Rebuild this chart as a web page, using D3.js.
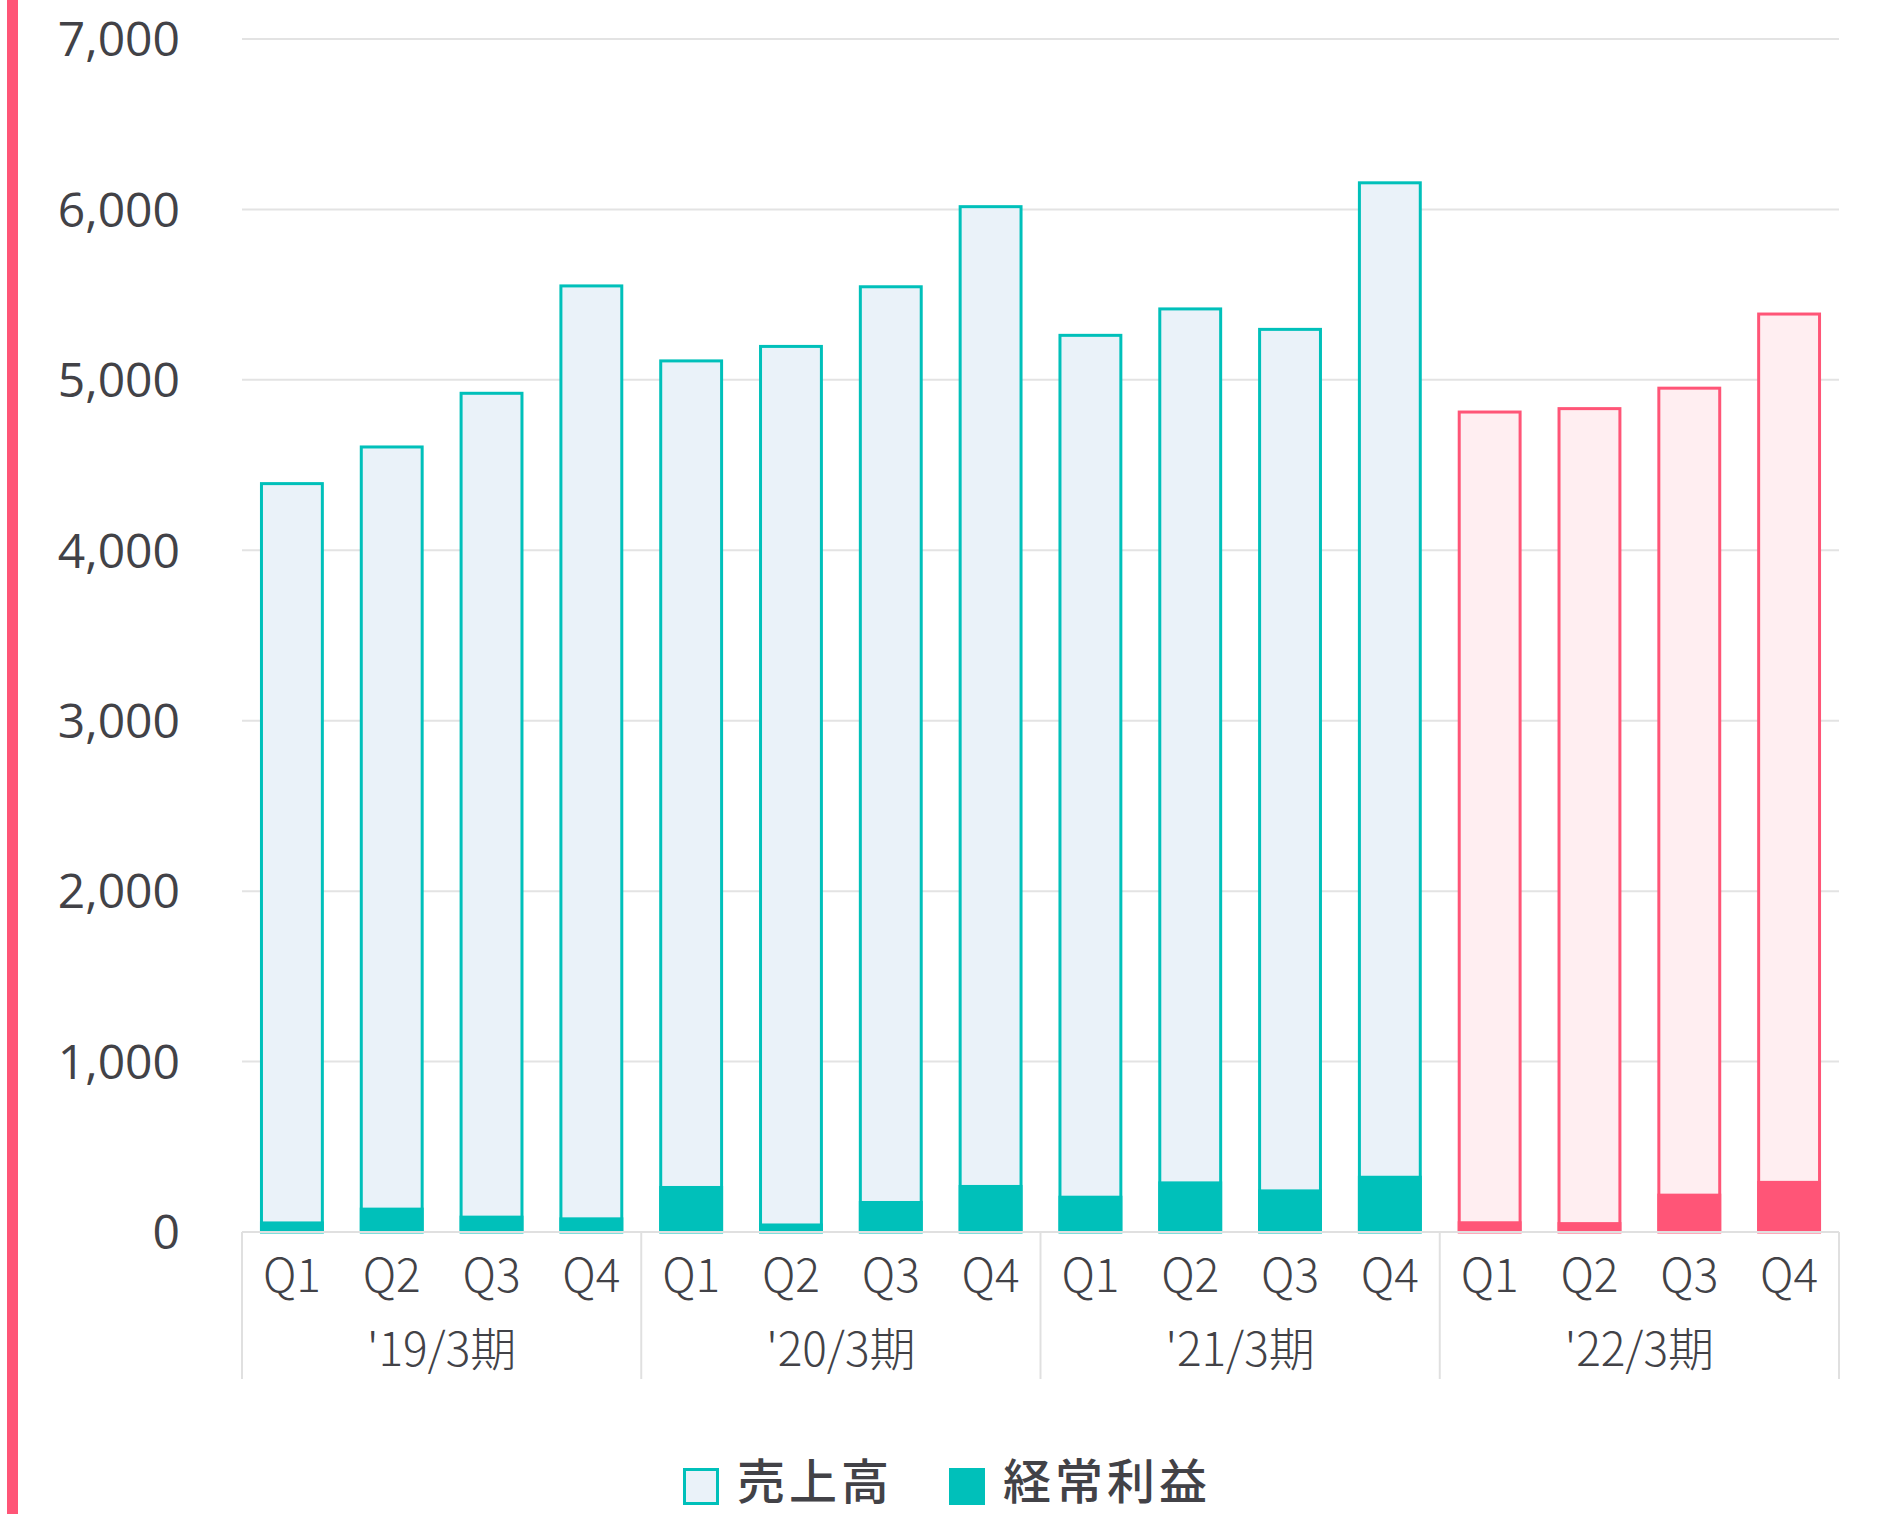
<!DOCTYPE html>
<html>
<head>
<meta charset="utf-8">
<script src="https://cdn.jsdelivr.net/npm/d3@7"></script>
<style>
  html, body { margin: 0; padding: 0; background: #fff; }
  svg { display: block; }
</style>
</head>
<body>
<div id="chart"></div>
<script>
// data
var periods = ["'19/3期", "'20/3期", "'21/3期", "'22/3期"];
var quarters = ["Q1", "Q2", "Q3", "Q4"];
var sales = [4400, 4615, 4930, 5560, 5120, 5205, 5555, 6025, 5270, 5425, 5305, 6165, 4820, 4840, 4960, 5395];
var profit = [62, 143, 96, 86, 270, 50, 182, 276, 213, 297, 250, 330, 63, 58, 225, 300];
var yTicks = [0, 1000, 2000, 3000, 4000, 5000, 6000, 7000];
var legendNames = ["売上高", "経常利益"];

var w = 1896, h = 1514;
var teal = "#00c0ba", tealLight = "#eaf2f9";
var pink = "#ff5577", pinkLight = "#ffeef1";
var textCol = "#424247";

var rows = [];
periods.forEach(function(p, pi) {
  quarters.forEach(function(q, qi) {
    rows.push({id: pi + "-" + q, period: p, pi: pi, q: q, sales: sales[pi * 4 + qi], profit: profit[pi * 4 + qi]});
  });
});

var svg = d3.select("#chart").append("svg")
  .attr("width", w)
  .attr("height", h);

// pink strip on the left
svg.append("rect")
  .attr("x", 7).attr("y", 0)
  .attr("width", 11).attr("height", h)
  .attr("fill", pink);

var x = d3.scaleBand()
  .domain(rows.map(function(d) { return d.id; }))
  .range([242, 1839])
  .paddingInner(0.36)
  .paddingOuter(0.18);

var y = d3.scaleLinear()
  .domain([0, 7000])
  .range([1232, 39]);

// grid lines
svg.append("g")
  .selectAll("line")
  .data(yTicks)
  .enter()
  .append("line")
  .attr("x1", 242).attr("x2", 1839)
  .attr("y1", function(d) { return y(d); })
  .attr("y2", function(d) { return y(d); })
  .attr("stroke", "#e3e3e3")
  .attr("stroke-width", 2);

// y labels
svg.append("g")
  .selectAll("text")
  .data(yTicks)
  .enter()
  .append("text")
  .attr("x", 180)
  .attr("y", function(d) { return y(d); })
  .attr("dy", "0.36em")
  .attr("text-anchor", "end")
  .attr("font-family", "'Open Sans', sans-serif")
  .attr("font-size", "48px")
  .attr("fill", textCol)
  .text(function(d) { return d3.format(",")(d); });

var isLast = function(d) { return d.pi === periods.length - 1; };

// sales bars
svg.append("g")
  .selectAll("rect")
  .data(rows)
  .enter()
  .append("rect")
  .attr("x", function(d) { return x(d.id) + 1.5; })
  .attr("y", function(d) { return y(d.sales) + 1.5; })
  .attr("width", x.bandwidth() - 3)
  .attr("height", function(d) { return y(0) - y(d.sales) - 1.5; })
  .attr("fill", function(d) { return isLast(d) ? pinkLight : tealLight; })
  .attr("stroke", function(d) { return isLast(d) ? pink : teal; })
  .attr("stroke-width", 3);

// profit bars
svg.append("g")
  .selectAll("rect")
  .data(rows)
  .enter()
  .append("rect")
  .attr("x", function(d) { return x(d.id); })
  .attr("y", function(d) { return y(d.profit); })
  .attr("width", x.bandwidth())
  .attr("height", function(d) { return y(0) - y(d.profit); })
  .attr("fill", function(d) { return isLast(d) ? pink : teal; });

// category axis box
var bounds = d3.range(periods.length + 1).map(function(i) { return 242 + i * (1839 - 242) / periods.length; });
svg.append("line")
  .attr("x1", 242).attr("x2", 1839)
  .attr("y1", y(0)).attr("y2", y(0))
  .attr("stroke", "#e0e0e0").attr("stroke-width", 2);
svg.append("g")
  .selectAll("line")
  .data(bounds)
  .enter()
  .append("line")
  .attr("x1", function(d) { return d; })
  .attr("x2", function(d) { return d; })
  .attr("y1", y(0)).attr("y2", 1379)
  .attr("stroke", "#e0e0e0").attr("stroke-width", 2);

// quarter labels
svg.append("g")
  .selectAll("text")
  .data(rows)
  .enter()
  .append("text")
  .attr("x", function(d) { return x(d.id) + x.bandwidth() / 2; })
  .attr("y", 1292)
  .attr("text-anchor", "middle")
  .attr("font-family", "'Noto Sans CJK JP', sans-serif")
  .attr("font-weight", 300)
  .attr("font-size", "46px")
  .attr("fill", textCol)
  .text(function(d) { return d.q; });

// period labels
svg.append("g")
  .selectAll("text")
  .data(periods)
  .enter()
  .append("text")
  .attr("x", function(d, i) { return (bounds[i] + bounds[i + 1]) / 2; })
  .attr("y", 1366)
  .attr("text-anchor", "middle")
  .attr("font-family", "'Noto Sans CJK JP', sans-serif")
  .attr("font-weight", 300)
  .attr("font-size", "46px")
  .attr("fill", textCol)
  .text(function(d) { return d; });

// legend
var legendX = [683, 949];
var lg = svg.append("g")
  .selectAll("g")
  .data(legendNames)
  .enter()
  .append("g")
  .attr("transform", function(d, i) { return "translate(" + legendX[i] + ",1468)"; });
lg.append("rect")
  .attr("x", function(d, i) { return i === 0 ? 1.5 : 0; })
  .attr("y", function(d, i) { return i === 0 ? 1.5 : 0; })
  .attr("width", function(d, i) { return i === 0 ? 33 : 36; })
  .attr("height", function(d, i) { return i === 0 ? 34 : 37; })
  .attr("fill", function(d, i) { return i === 0 ? tealLight : teal; })
  .attr("stroke", function(d, i) { return i === 0 ? teal : "none"; })
  .attr("stroke-width", 3);
lg.append("text")
  .attr("x", 54)
  .attr("y", 31)
  .attr("font-family", "'Noto Sans CJK JP', sans-serif")
  .attr("font-weight", 500)
  .attr("font-size", "48px")
  .attr("letter-spacing", "4px")
  .attr("fill", textCol)
  .text(function(d) { return d; });
</script>
</body>
</html>
